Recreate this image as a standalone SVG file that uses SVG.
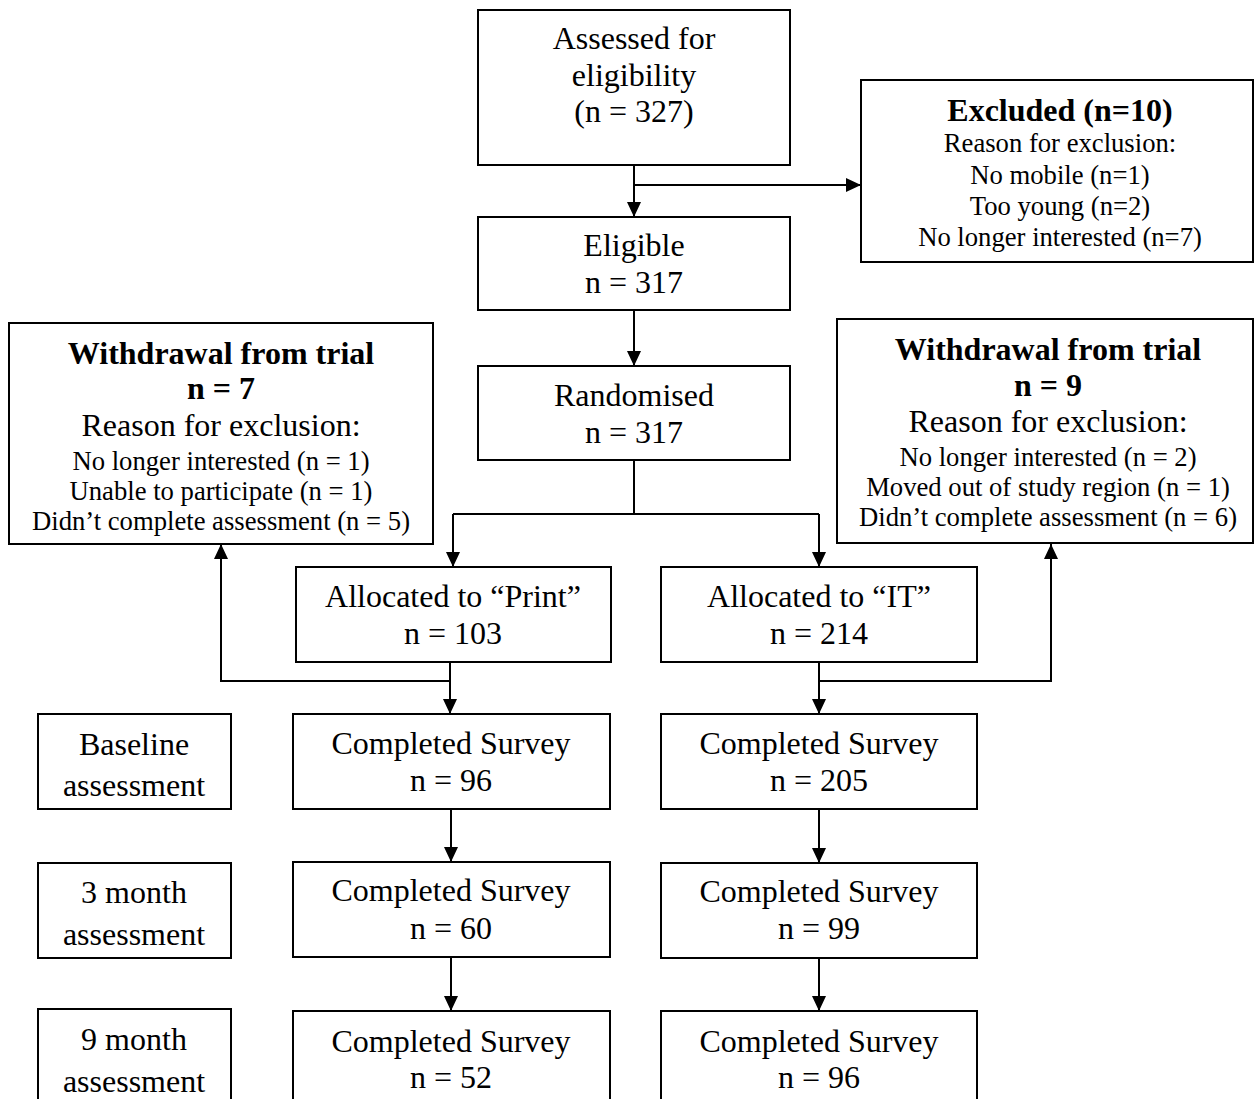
<svg xmlns="http://www.w3.org/2000/svg" width="1255" height="1099" viewBox="0 0 1255 1099">
<defs>
<marker id="ah" markerUnits="userSpaceOnUse" markerWidth="15" markerHeight="14" refX="15" refY="7" orient="auto">
<path d="M0,0 L15,7 L0,14 z" fill="#000"/>
</marker>
<style>
.box{fill:#fff;stroke:#000;stroke-width:2}
text{font-family:"Liberation Serif","Times New Roman",serif;fill:#000;text-anchor:middle}
.t{font-size:32px}
.b{font-size:32px;font-weight:bold}
.s{font-size:26.67px}
.c{fill:none;stroke:#000;stroke-width:2}
.a{marker-end:url(#ah)}
</style>
</defs>
<rect width="1255" height="1099" fill="#fff"/>
<g id="connectors">
<path class="c a" d="M634,165 V217"/>
<path class="c a" d="M634,185 H861"/>
<path class="c a" d="M634,310 V366"/>
<path class="c" d="M634,460 V514 M453,514 H819"/>
<path class="c a" d="M453,514 V567"/>
<path class="c a" d="M819,514 V567"/>
<path class="c a" d="M450,662 V714"/>
<path class="c a" d="M450,681 H221 V544"/>
<path class="c a" d="M819,662 V714"/>
<path class="c a" d="M819,681 H1051 V544"/>
<path class="c a" d="M451,809 V862"/>
<path class="c a" d="M451,957 V1011"/>
<path class="c a" d="M819,809 V863"/>
<path class="c a" d="M819,958 V1011"/>
</g>
<g id="assessed">
<rect class="box" x="478" y="10" width="312" height="155"/>
<text class="t" x="634" y="49">Assessed for</text>
<text class="t" x="634" y="86">eligibility</text>
<text class="t" x="634" y="122">(n = 327)</text>
</g>
<g id="excluded">
<rect class="box" x="861" y="80" width="392" height="182"/>
<text class="b" x="1060" y="121">Excluded (n=10)</text>
<text class="s" x="1060" y="152">Reason for exclusion:</text>
<text class="s" x="1060" y="184">No mobile (n=1)</text>
<text class="s" x="1060" y="215">Too young (n=2)</text>
<text class="s" x="1060" y="246">No longer interested (n=7)</text>
</g>
<g id="eligible">
<rect class="box" x="478" y="217" width="312" height="93"/>
<text class="t" x="634" y="256">Eligible</text>
<text class="t" x="634" y="293">n = 317</text>
</g>
<g id="randomised">
<rect class="box" x="478" y="366" width="312" height="94"/>
<text class="t" x="634" y="406">Randomised</text>
<text class="t" x="634" y="443">n = 317</text>
</g>
<g id="withdrawal-left">
<rect class="box" x="9" y="323" width="424" height="221"/>
<text class="b" x="221" y="364">Withdrawal from trial</text>
<text class="b" x="221" y="399">n = 7</text>
<text class="t" x="221" y="436">Reason for exclusion:</text>
<text class="s" x="221" y="470">No longer interested (n = 1)</text>
<text class="s" x="221" y="500">Unable to participate (n = 1)</text>
<text class="s" x="221" y="530">Didn’t complete assessment (n = 5)</text>
</g>
<g id="withdrawal-right">
<rect class="box" x="837" y="319" width="416" height="224"/>
<text class="b" x="1048" y="360">Withdrawal from trial</text>
<text class="b" x="1048" y="396">n = 9</text>
<text class="t" x="1048" y="432">Reason for exclusion:</text>
<text class="s" x="1048" y="466">No longer interested (n = 2)</text>
<text class="s" x="1048" y="496">Moved out of study region (n = 1)</text>
<text class="s" x="1048" y="526">Didn’t complete assessment (n = 6)</text>
</g>
<g id="alloc-print">
<rect class="box" x="296" y="567" width="315" height="95"/>
<text class="t" x="453" y="607">Allocated to “Print”</text>
<text class="t" x="453" y="644">n = 103</text>
</g>
<g id="alloc-it">
<rect class="box" x="661" y="567" width="316" height="95"/>
<text class="t" x="819" y="607">Allocated to “IT”</text>
<text class="t" x="819" y="644">n = 214</text>
</g>
<g id="baseline-label">
<rect class="box" x="38" y="714" width="193" height="95"/>
<text class="t" x="134" y="755">Baseline</text>
<text class="t" x="134" y="796">assessment</text>
</g>
<g id="month3-label">
<rect class="box" x="38" y="863" width="193" height="95"/>
<text class="t" x="134" y="903">3 month</text>
<text class="t" x="134" y="945">assessment</text>
</g>
<g id="month9-label">
<rect class="box" x="38" y="1009" width="193" height="100"/>
<text class="t" x="134" y="1050">9 month</text>
<text class="t" x="134" y="1092">assessment</text>
</g>
<g id="print-baseline">
<rect class="box" x="293" y="714" width="317" height="95"/>
<text class="t" x="451" y="754">Completed Survey</text>
<text class="t" x="451" y="791">n = 96</text>
</g>
<g id="print-3m">
<rect class="box" x="293" y="862" width="317" height="95"/>
<text class="t" x="451" y="901">Completed Survey</text>
<text class="t" x="451" y="939">n = 60</text>
</g>
<g id="print-9m">
<rect class="box" x="293" y="1011" width="317" height="100"/>
<text class="t" x="451" y="1052">Completed Survey</text>
<text class="t" x="451" y="1088">n = 52</text>
</g>
<g id="it-baseline">
<rect class="box" x="661" y="714" width="316" height="95"/>
<text class="t" x="819" y="754">Completed Survey</text>
<text class="t" x="819" y="791">n = 205</text>
</g>
<g id="it-3m">
<rect class="box" x="661" y="863" width="316" height="95"/>
<text class="t" x="819" y="902">Completed Survey</text>
<text class="t" x="819" y="939">n = 99</text>
</g>
<g id="it-9m">
<rect class="box" x="661" y="1011" width="316" height="100"/>
<text class="t" x="819" y="1052">Completed Survey</text>
<text class="t" x="819" y="1088">n = 96</text>
</g>
</svg>
